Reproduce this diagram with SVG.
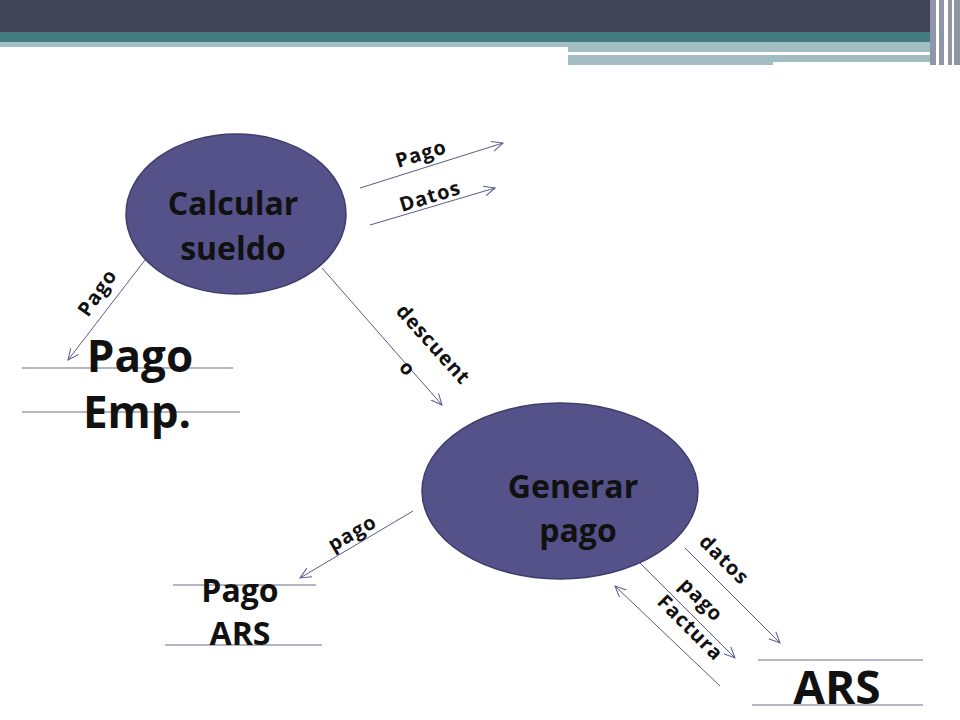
<svg xmlns="http://www.w3.org/2000/svg" width="960" height="720" viewBox="0 0 960 720">
<style>
.n{fill:#55528A;stroke:#3F3D6E;stroke-width:1.5}
.t{font-family:"Open Sans","Liberation Sans",sans-serif;font-weight:bold;fill:#111;text-anchor:middle}
.l{font-family:"Open Sans","Liberation Sans",sans-serif;font-weight:bold;fill:#111;font-size:20px;letter-spacing:1px}
.c{stroke:#5A5A8A;stroke-width:1;fill:none;marker-end:url(#a)}
.s{stroke:#6A6A8A;stroke-width:1}
</style>
<defs><marker id="a" viewBox="0 0 12 12" refX="11" refY="6" markerWidth="12" markerHeight="12" orient="auto" markerUnits="userSpaceOnUse"><path d="M0,1 L11,6 L0,11" fill="none" stroke="#5A5A8A" stroke-width="1"/></marker></defs>
<rect width="960" height="32" fill="#424457"/>
<rect y="32" width="960" height="10" fill="#437C80"/>
<rect y="42" width="568" height="5" fill="#A3BEC3"/>
<rect x="568" y="42" width="375" height="10" fill="#A3BEC3"/>
<rect x="568" y="52" width="320" height="3" fill="#fff"/>
<rect x="568" y="55" width="205" height="10" fill="#A3BEC3"/>
<rect x="773" y="55" width="170" height="7" fill="#A3BEC3"/>
<rect x="930" y="0" width="30" height="65" fill="#9096A8"/>
<rect x="936" y="0" width="3" height="65" fill="#fff"/>
<rect x="944" y="0" width="4" height="65" fill="#fff"/>
<rect x="952" y="0" width="2" height="65" fill="#fff"/>
<g id="connectors">
<line class="c" x1="360" y1="188" x2="503" y2="143"/>
<line class="c" x1="370" y1="225" x2="495" y2="188"/>
<line class="c" x1="145" y1="260" x2="68" y2="360"/>
<line class="c" x1="322" y1="268" x2="442" y2="405"/>
<line class="c" x1="413" y1="511" x2="300" y2="578"/>
<line class="c" x1="685" y1="548" x2="780" y2="643"/>
<line class="c" x1="640" y1="563" x2="735" y2="658"/>
<line class="c" x1="720" y1="686" x2="615" y2="586"/>
<text class="l" transform="translate(398,168) rotate(-17)">Pago</text>
<text class="l" transform="translate(402,212) rotate(-17)">Datos</text>
<text class="l" transform="translate(88,318) rotate(-55)">Pago</text>
<text class="l" transform="translate(395,312) rotate(48)">descuent</text>
<text class="l" transform="translate(398,368) rotate(48)">o</text>
<text class="l" transform="translate(333,552) rotate(-30)">pago</text>
<text class="l" transform="translate(698,543) rotate(45)">datos</text>
<text class="l" transform="translate(678,586) rotate(45)">pago</text>
<text class="l" transform="translate(656,603) rotate(45)">Factura</text>
</g>
<g id="calcular"><ellipse class="n" cx="236" cy="214" rx="110" ry="80"/><text class="t" x="233" y="215" font-size="32">Calcular</text><text class="t" x="233" y="260" font-size="32">sueldo</text></g>
<g id="generar"><ellipse class="n" cx="560" cy="491" rx="138" ry="88"/><text class="t" x="573" y="498" font-size="32">Generar</text><text class="t" x="578" y="542" font-size="32">pago</text></g>
<g id="pagoemp"><line class="s" x1="22" y1="368" x2="233" y2="368"/><line class="s" x1="22" y1="412" x2="240" y2="412"/><text class="t" x="140" y="372" font-size="44">Pago</text><text class="t" x="137" y="428" font-size="44">Emp.</text></g>
<g id="pagoars"><line class="s" x1="173" y1="585" x2="316" y2="585"/><line class="s" x1="165" y1="645" x2="322" y2="645"/><text class="t" x="240" y="602" font-size="32">Pago</text><text class="t" x="240" y="645" font-size="32">ARS</text></g>
<g id="ars"><line class="s" x1="758" y1="660" x2="923" y2="660"/><line class="s" x1="752" y1="705" x2="923" y2="705"/><text class="t" x="837" y="704" font-size="46">ARS</text></g>
</svg>
